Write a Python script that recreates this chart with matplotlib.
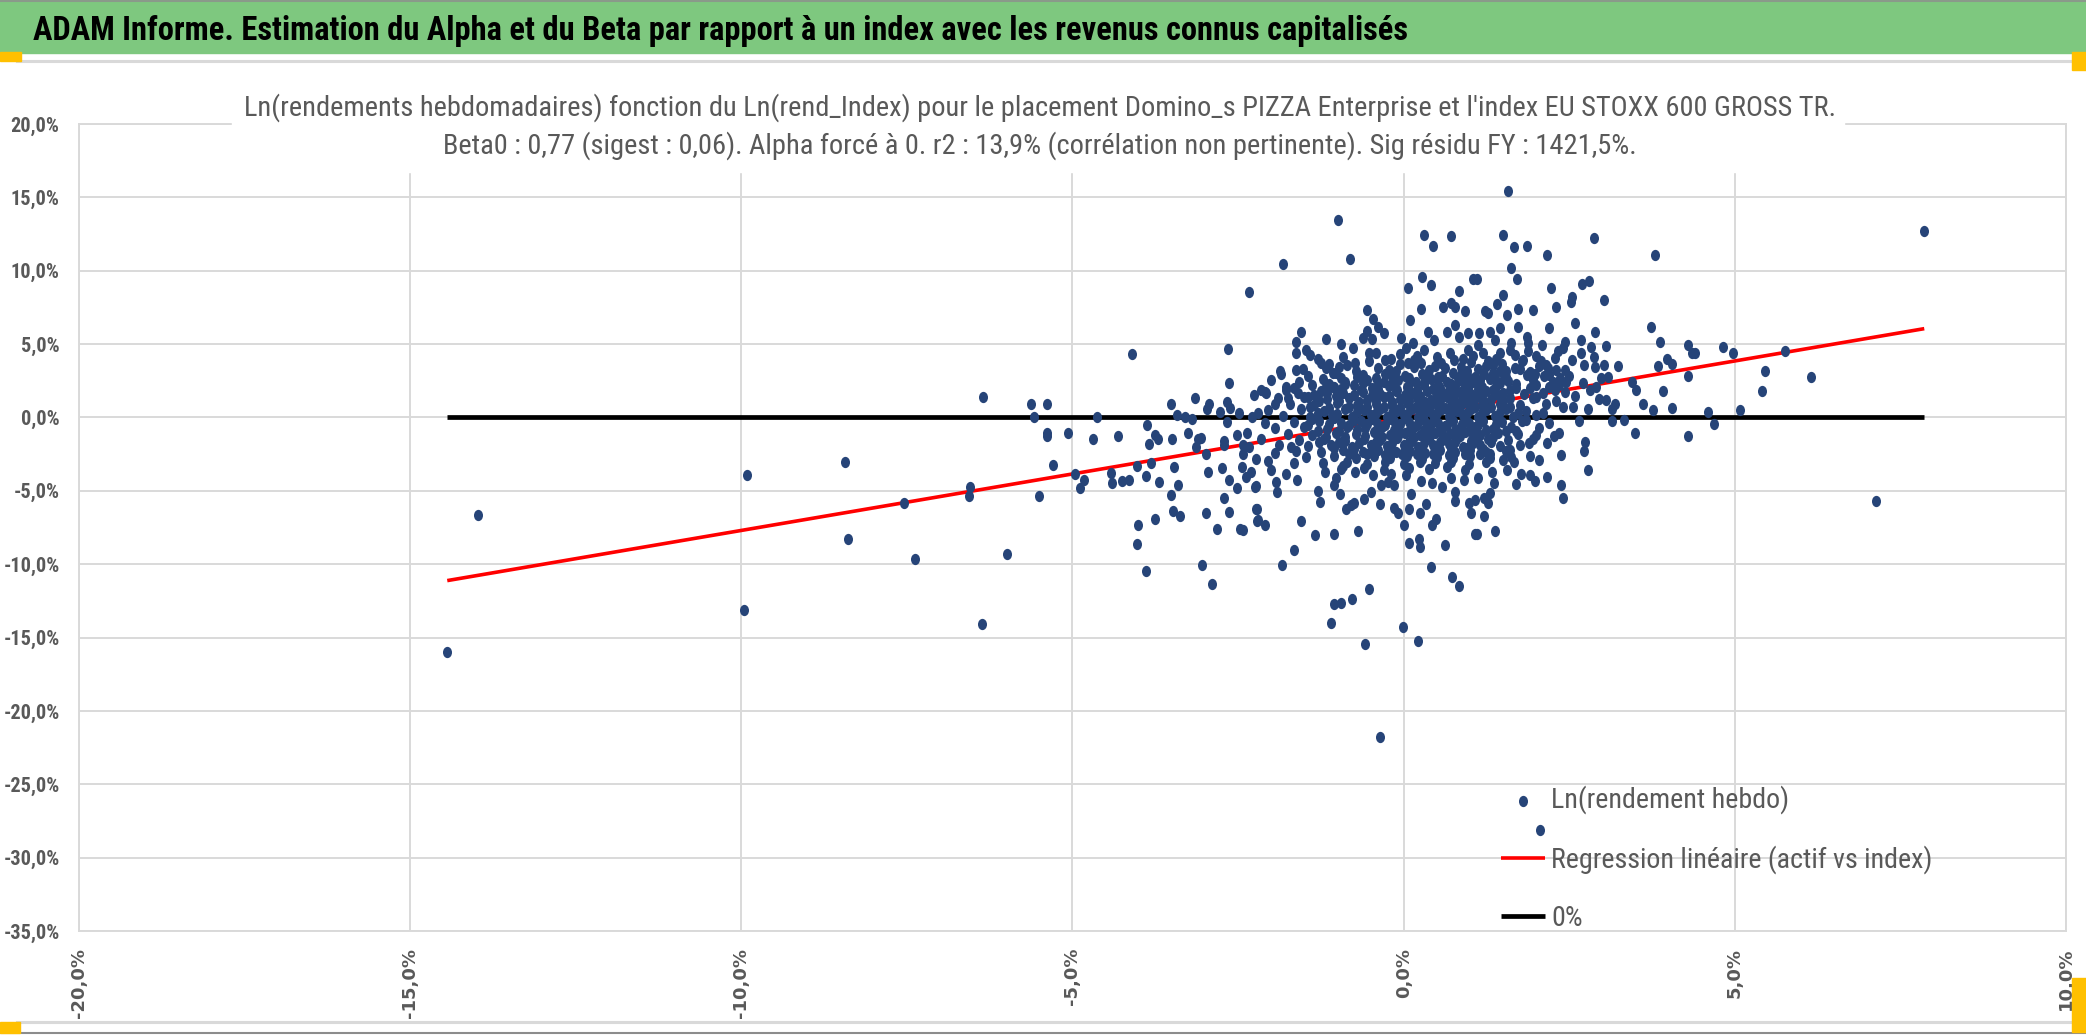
import os
import matplotlib
matplotlib.use("Agg")
from matplotlib import pyplot as plt, ticker as mticker
from matplotlib import font_manager as fm
from matplotlib.path import Path
from matplotlib.patches import Rectangle
from matplotlib.lines import Line2D

# weekly log returns in %, (index, asset)
left_outliers = [(-14.44, -16.0), (-13.98, -6.63), (-9.92, -3.90), (-9.96, -13.10),
                 (-8.44, -3.03), (-8.39, -8.31)]

left_side = [(-7.54, -5.81), (-7.38, -9.64), (-6.55, -4.76), (-6.56, -5.38), (-6.35, 1.39),
             (-6.36, -14.08), (-5.99, -9.32), (-5.62, 0.89), (-5.39, 0.89), (-5.58, 0.05),
             (-5.39, -1.09), (-5.39, -1.28), (-5.29, -3.26), (-5.50, -5.38), (-5.07, -1.03),
             (-4.96, -3.83), (-4.83, -4.28), (-4.88, -4.81), (-4.69, -1.44), (-4.63, 0.02),
             (-4.32, -1.25), (-4.42, -3.78), (-4.40, -4.44), (-4.26, -4.33), (-4.15, -4.28),
             (-4.10, 4.33), (-4.02, -3.33), (-3.89, -3.99), (-3.87, -0.52), (-3.84, -1.82),
             (-3.82, -3.10), (-3.76, -1.21), (-3.71, -1.44), (-3.70, -4.42), (-4.01, -7.36),
             (-4.02, -8.61), (-3.89, -10.46), (-3.75, -6.90), (-3.52, 0.93), (-3.50, -1.44),
             (-3.47, -3.39), (-3.52, -5.31), (-3.48, -6.38), (-3.38, -6.70), (-3.40, -4.58),
             (-3.42, 0.16), (-3.30, 0.05), (-3.20, -0.09), (-3.26, -1.09), (-3.15, 1.34),
             (-3.13, -2.00), (-3.10, -1.50), (-3.06, -1.37), (-2.99, -2.46), (-2.95, -3.69),
             (-2.99, -6.49), (-3.05, -10.07), (-2.89, -11.32), (-2.97, 0.55), (-2.94, 0.91),
             (-2.78, 0.34), (-2.82, -7.63), (-2.74, -3.46), (-2.72, -5.51), (-2.71, -1.59),
             (-2.71, -1.89), (-2.66, -0.32), (-2.66, 1.07), (-2.62, 0.62), (-2.65, 4.67),
             (-2.63, 2.32), (-2.64, -4.28), (-2.63, -6.47), (-2.52, -1.18), (-2.51, -4.81),
             (-2.48, 0.27), (-2.47, -7.63), (-2.42, -7.70), (-2.43, -2.51), (-2.43, -1.89),
             (-2.44, -3.37), (-2.38, -4.05), (-2.36, -1.09), (-2.33, 8.52), (-2.29, 0.05),
             (-2.26, 1.53), (-2.24, -4.74), (-2.23, -2.80), (-2.23, -6.22), (-2.22, -7.06),
             (-2.33, -2.0), (-2.31, -3.71), (-2.1, -0.4), (-2.15, -1.5), (-1.95, -2.4),
             (-2.05, -3.0), (-1.7, -2.0), (-2.2, 0.3)]

upper_cluster = [(-0.99, 13.45), (-0.81, 10.77), (-1.82, 10.45), (0.30, 12.43), (0.45, 11.70),
                 (0.72, 12.36), (0.28, 9.55), (0.41, 9.0), (0.06, 8.80), (0.84, 8.64), (1.04, 9.43),
                 (-0.55, 7.32), (-0.46, 6.73), (-0.38, 6.18), (-0.30, 5.77), (0.26, 7.39),
                 (0.59, 7.55), (0.71, 7.82), (0.78, 7.55), (0.92, 7.27), (0.10, 6.64), (0.78, 6.30),
                 (-1.55, 5.84), (-1.63, 5.14), (-1.62, 4.41), (-1.18, 5.34), (-0.95, 5.02),
                 (-0.76, 4.75), (-1.48, 4.59), (-1.41, 4.25), (-1.30, 3.95), (-1.52, 3.30),
                 (-1.86, 3.16), (-1.12, 3.64), (-1.06, 3.05), (-0.91, 4.14), (-0.97, 3.45),
                 (-0.62, 5.43), (-0.48, 5.34), (-0.56, 5.9), (-0.74, 3.68), (-0.52, 4.36),
                 (-0.42, 4.36), (-0.28, 3.91), (-0.19, 3.98), (-0.22, 3.23), (-2.15, 1.86),
                 (-2.08, 1.64), (-1.78, 1.86), (-1.65, 1.98), (-1.75, 1.30), (-1.94, 0.95),
                 (-1.45, 1.41), (-1.30, 1.23), (-1.17, 2.09), (-1.06, 2.05), (-1.15, 1.64),
                 (-0.04, 5.39), (0.04, 4.70), (0.14, 5.05), (0.36, 5.84), (0.46, 5.27), (0.66, 5.84),
                 (0.84, 5.50), (0.97, 5.73), (0.97, 4.59), (0.31, 4.59), (0.06, 3.68), (0.26, 3.68),
                 (0.56, 3.68), (0.76, 3.91), (0.87, 3.45), (0.2, 4.2), (0.5, 4.1), (0.7, 4.4),
                 (0.9, 4.0), (0.15, 3.9), (-0.05, 4.3)]

lower_cluster = [(-0.36, -21.77), (-0.59, -15.41), (-0.01, -14.27), (0.21, -15.25), (-1.10, -14.0),
                 (-1.05, -12.68), (-0.94, -12.64), (-0.78, -12.39), (-0.53, -11.66), (-1.83, -10.07),
                 (-1.65, -9.05), (0.42, -10.18), (0.73, -10.86), (0.83, -11.5), (-1.34, -8.0),
                 (-1.05, -7.91), (-0.69, -7.75), (-1.55, -7.05), (-2.20, -7.0), (-2.09, -7.34),
                 (-2.21, -6.25), (0.0, -7.34), (0.08, -8.59), (0.23, -8.30), (0.25, -8.82),
                 (0.62, -8.66), (0.43, -7.34), (0.49, -6.95), (1.07, -7.95), (-1.26, -5.75),
                 (-0.96, -5.25), (-0.87, -6.27), (-0.80, -5.98), (-0.75, -5.80), (-0.60, -5.59),
                 (-0.50, -5.07), (-0.35, -5.93), (-0.15, -6.14), (-0.08, -6.48), (0.08, -6.25),
                 (0.11, -5.25), (0.25, -6.5), (0.33, -5.93), (0.78, -5.07), (0.78, -5.68),
                 (0.99, -5.86), (1.01, -6.5), (-2.23, -4.68), (-1.91, -5.07), (-1.92, -4.39),
                 (-2.0, -3.59), (-1.77, -3.82), (-1.61, -4.27), (-1.30, -5.0), (-1.05, -4.61),
                 (-1.02, -4.16), (-0.74, -3.70), (-0.46, -3.93), (-0.34, -4.61), (-0.24, -4.39),
                 (-0.15, -4.61), (-0.19, -3.82), (0.03, -3.93), (0.26, -4.32), (0.43, -4.50),
                 (0.58, -4.73), (0.71, -4.16), (0.91, -4.27), (-0.92, -3.32), (-1.65, -3.09),
                 (-1.19, -3.70)]

right_side = [(1.58, 15.45), (1.50, 12.45), (1.67, 11.64), (1.86, 11.70), (2.16, 11.05), (2.88, 12.23),
              (3.79, 11.05), (1.62, 10.16), (1.71, 9.43), (1.11, 9.43), (2.23, 8.80), (2.70, 9.09),
              (2.80, 9.30), (2.54, 8.23), (2.53, 7.89), (2.30, 7.55), (3.03, 8.0), (1.50, 8.34),
              (1.41, 7.73), (1.72, 7.39), (1.96, 7.30), (1.23, 7.27), (1.28, 7.09), (1.56, 6.98),
              (1.46, 6.07), (1.72, 6.14), (2.20, 6.07), (2.58, 6.45), (2.89, 5.84), (3.74, 6.14),
              (3.87, 5.11), (4.29, 4.93), (4.35, 4.41), (1.13, 5.73), (1.31, 5.84), (1.86, 5.50),
              (1.87, 5.09), (2.09, 4.93), (2.44, 5.16), (2.68, 5.27), (2.83, 4.82), (3.06, 4.89),
              (2.33, 4.52), (2.68, 4.41), (2.87, 4.09), (2.54, 3.91), (2.72, 3.57), (2.89, 3.45),
              (3.03, 3.59), (3.23, 3.50), (3.08, 2.77), (2.98, 2.66), (2.82, 1.86), (2.90, 2.09),
              (2.71, 2.36), (2.44, 3.23), (2.36, 2.66), (2.44, 1.75), (2.59, 1.45), (2.29, 1.86),
              (3.44, 2.43), (3.51, 1.86), (3.84, 3.52), (3.97, 3.95), (4.05, 3.64), (4.29, 2.84),
              (3.92, 1.82), (3.62, 0.91), (3.77, 0.50), (4.05, 0.66), (2.95, 1.27), (3.06, 1.18),
              (3.19, 0.89), (3.14, 0.55), (2.78, 0.61), (2.55, 0.73), (2.41, 0.68), (2.65, -0.25),
              (3.14, -0.25), (3.33, -0.14), (3.50, -1.05), (4.30, -1.23), (2.74, -1.66),
              (2.73, -2.27), (2.38, -2.57), (2.27, -1.27), (2.34, -1.09), (2.16, -1.77),
              (1.89, -1.77), (1.2, 4.4), (1.4, 4.0), (1.6, 4.6), (1.8, 3.9), (1.25, 3.5),
              (1.55, 3.2), (1.9, 3.1), (2.0, 4.2), (2.15, 3.6), (2.2, 2.9), (1.95, 2.6),
              (1.3, -2.5), (1.6, -2.2), (1.9, -2.6), (2.0, -1.2), (1.7, -0.9), (2.2, -0.4),
              (1.5, -2.9), (1.85, -0.2), (2.1, 0.3), (2.3, 1.1), (2.0, 1.4),
              (2.79, -3.55), (2.40, -5.52), (2.38, -4.61), (2.17, -4.05), (1.99, -4.34),
              (1.91, -3.93), (1.77, -3.86), (1.70, -4.55), (1.56, -3.59), (1.38, -7.75),
              (1.11, -7.91), (1.21, -6.73), (1.28, -5.86), (1.31, -5.18), (1.21, -5.52),
              (1.08, -5.64), (1.36, -4.45), (1.12, -4.16), (1.33, -3.7), (1.66, -3.02),
              (2.04, -2.91), (2.06, -28.1)]

upper_right_fill = [(1.15, 2.55), (1.35, 3.05), (1.55, 2.75), (1.75, 3.3), (1.98, 2.95), (2.18, 3.35),
                    (1.28, 3.85), (1.48, 3.65), (1.68, 4.25), (1.88, 4.55), (2.08, 3.85), (2.28, 4.05),
                    (1.12, 4.95), (1.38, 5.25), (1.62, 5.05), (2.4, 4.7), (2.25, 2.45), (1.05, 4.2),
                    (0.95, 3.2), (1.45, 4.4), (1.7, 2.3), (1.9, 2.0), (2.35, 2.2), (2.5, 2.85), (2.1, 1.65)]

right_outliers = [(7.86, 12.73), (7.13, -5.68), (4.40, 4.36), (4.82, 4.82), (4.97, 4.39), (5.75, 4.55),
                  (5.46, 3.14), (5.41, 1.82), (6.15, 2.77), (5.08, 0.50), (4.60, 0.34), (4.69, -0.48)]

# the packed core of the cloud, estimated
core = [(-1.25, 3.7), (-0.85, 3.55), (-0.52, 3.82), (-0.05, 3.62), (0.22, 3.9), (0.48, 3.5), (1.02, 3.75),
        (1.35, 3.6), (1.78, 3.85), (2.05, 3.48),
        (-1.62, 3.25), (-1.18, 3.4), (-0.72, 3.2), (-0.38, 3.35), (-0.12, 3.15), (0.15, 3.42), (0.38, 3.22),
        (0.62, 3.38), (0.88, 3.12), (1.12, 3.3), (1.45, 3.18), (1.68, 3.4), (2.3, 3.25),
        (-1.85, 2.95), (-1.45, 2.82), (-1.02, 3.0), (-0.62, 2.88), (-0.28, 2.98), (0.02, 2.8), (0.28, 2.95),
        (0.52, 2.78), (0.74, 3.02), (0.96, 2.86), (1.22, 2.95), (1.52, 2.8), (1.86, 2.92), (2.12, 2.85),
        (-2.0, 2.52), (-1.58, 2.45), (-1.22, 2.6), (-0.88, 2.42), (-0.55, 2.55), (-0.3, 2.4), (-0.08, 2.58),
        (0.18, 2.45), (0.42, 2.62), (0.65, 2.4), (0.85, 2.55), (1.05, 2.42), (1.3, 2.6), (1.58, 2.48),
        (1.95, 2.55), (2.45, 2.4),
        (-1.78, 2.1), (-1.38, 2.2), (-1.05, 2.05), (-0.75, 2.18), (-0.48, 2.02), (-0.22, 2.15), (0.05, 2.08),
        (0.3, 2.2), (0.55, 2.0), (0.78, 2.12), (0.98, 2.22), (1.18, 2.05), (1.4, 2.15), (1.7, 2.02),
        (2.0, 2.18), (2.2, 2.05),
        (-2.1, 1.72), (-1.6, 1.65), (-1.25, 1.8), (-0.92, 1.68), (-0.62, 1.75), (-0.35, 1.62), (-0.12, 1.78),
        (0.12, 1.65), (0.35, 1.8), (0.58, 1.68), (0.8, 1.75), (1.02, 1.6), (1.25, 1.78), (1.5, 1.7),
        (1.82, 1.62),
        (-1.9, 1.3), (-1.5, 1.38), (-1.15, 1.25), (-0.82, 1.35), (-0.55, 1.22), (-0.3, 1.4), (-0.05, 1.28),
        (0.2, 1.35), (0.42, 1.22), (0.65, 1.38), (0.88, 1.25), (1.1, 1.4), (1.32, 1.28), (1.6, 1.35),
        (1.95, 1.3),
        (-1.72, 0.92), (-1.35, 0.85), (-1.0, 0.98), (-0.7, 0.88), (-0.42, 0.95), (-0.18, 0.82), (0.05, 0.98),
        (0.28, 0.86), (0.5, 0.95), (0.72, 0.82), (0.95, 0.97), (1.18, 0.88), (1.45, 0.95), (1.75, 0.85),
        (2.15, 0.9),
        (-2.05, 0.5), (-1.55, 0.55), (-1.2, 0.45), (-0.88, 0.58), (-0.6, 0.48), (-0.35, 0.55), (-0.1, 0.42),
        (0.12, 0.58), (0.35, 0.45), (0.58, 0.56), (0.8, 0.42), (1.02, 0.55), (1.25, 0.48), (1.55, 0.58),
        (1.85, 0.45),
        (-1.82, 0.12), (-1.42, 0.05), (-1.08, 0.15), (-0.78, 0.02), (-0.5, 0.18), (-0.25, 0.05), (0.0, 0.15),
        (0.22, 0.02), (0.45, 0.18), (0.68, 0.08), (0.9, 0.15), (1.12, 0.02), (1.38, 0.12), (1.65, 0.05),
        (2.0, 0.15),
        (-1.65, -0.3), (-1.28, -0.22), (-0.95, -0.35), (-0.65, -0.25), (-0.4, -0.38), (-0.15, -0.22),
        (0.08, -0.32), (0.3, -0.2), (0.52, -0.35), (0.75, -0.25), (0.98, -0.38), (1.2, -0.22), (1.48, -0.3),
        (1.78, -0.25),
        (-1.95, -0.72), (-1.5, -0.65), (-1.15, -0.78), (-0.85, -0.62), (-0.58, -0.75), (-0.32, -0.65),
        (-0.08, -0.78), (0.15, -0.62), (0.38, -0.72), (0.62, -0.6), (0.85, -0.75), (1.08, -0.65),
        (1.35, -0.78), (1.62, -0.68), (2.05, -0.72),
        (-1.75, -1.1), (-1.38, -1.18), (-1.02, -1.05), (-0.72, -1.15), (-0.45, -1.02), (-0.2, -1.18),
        (0.02, -1.08), (0.25, -1.2), (0.48, -1.05), (0.7, -1.15), (0.92, -1.02), (1.15, -1.18),
        (1.42, -1.08), (1.72, -1.15),
        (-1.58, -1.52), (-1.2, -1.45), (-0.88, -1.58), (-0.6, -1.45), (-0.35, -1.55), (-0.1, -1.42),
        (0.12, -1.58), (0.35, -1.48), (0.58, -1.55), (0.8, -1.42), (1.02, -1.58), (1.28, -1.48),
        (1.58, -1.52), (1.95, -1.45),
        (-1.88, -1.9), (-1.45, -1.95), (-1.1, -1.85), (-0.78, -1.98), (-0.5, -1.88), (-0.25, -1.95),
        (0.0, -1.85), (0.22, -1.98), (0.45, -1.9), (0.68, -1.82), (0.9, -1.98), (1.15, -1.88),
        (1.45, -1.95), (1.75, -1.85),
        (-1.62, -2.3), (-1.25, -2.38), (-0.92, -2.25), (-0.62, -2.35), (-0.38, -2.22), (-0.12, -2.38),
        (0.1, -2.28), (0.32, -2.4), (0.55, -2.25), (0.78, -2.35), (1.0, -2.22), (1.25, -2.38), (1.55, -2.3),
        (-1.48, -2.72), (-1.05, -2.65), (-0.72, -2.78), (-0.45, -2.62), (-0.2, -2.75), (0.05, -2.65),
        (0.28, -2.8), (0.5, -2.68), (0.75, -2.75), (1.0, -2.62), (1.3, -2.78), (1.62, -2.7),
        (-1.22, -3.1), (-0.85, -3.02), (-0.55, -3.15), (-0.28, -3.05), (0.0, -3.18), (0.25, -3.02),
        (0.48, -3.12), (0.72, -3.05), (0.98, -3.15), (1.25, -3.02),
        (-0.95, -3.5), (-0.6, -3.42), (-0.3, -3.55), (0.08, -3.45), (0.38, -3.52), (0.65, -3.4), (0.92, -3.55)]

core_fill = [(-0.95, 2.68), (-0.7, 2.75), (-0.42, 2.7), (-0.18, 2.78), (0.08, 2.66), (0.32, 2.72), (0.58, 2.8),
             (0.82, 2.68), (1.08, 2.74), (1.38, 2.7),
             (-1.12, 2.3), (-0.88, 2.26), (-0.62, 2.35), (-0.38, 2.28), (-0.15, 2.32), (0.08, 2.25), (0.3, 2.36),
             (0.52, 2.3), (0.72, 2.26), (0.92, 2.34), (1.15, 2.28), (1.45, 2.32),
             (-1.2, 1.9), (-0.95, 1.95), (-0.65, 1.88), (-0.38, 1.94), (-0.1, 1.9), (0.2, 1.86), (0.45, 1.94),
             (0.68, 1.9), (0.9, 1.88), (1.12, 1.95), (1.35, 1.9), (1.6, 1.88),
             (-1.35, 1.5), (-1.02, 1.46), (-0.75, 1.54), (-0.48, 1.5), (-0.22, 1.46), (0.02, 1.52), (0.25, 1.48),
             (0.5, 1.55), (0.72, 1.46), (0.95, 1.52), (1.18, 1.48), (1.42, 1.54),
             (-1.28, 1.1), (-0.98, 1.14), (-0.68, 1.06), (-0.42, 1.12), (-0.18, 1.08), (0.08, 1.14), (0.32, 1.06),
             (0.55, 1.12), (0.78, 1.08), (1.0, 1.12), (1.22, 1.06), (1.5, 1.12),
             (-1.42, 0.7), (-1.12, 0.66), (-0.82, 0.74), (-0.55, 0.68), (-0.3, 0.72), (-0.05, 0.66), (0.18, 0.74),
             (0.4, 0.7), (0.62, 0.66), (0.85, 0.74), (1.08, 0.68), (1.32, 0.72), (1.6, 0.68),
             (-1.3, 0.3), (-1.0, 0.26), (-0.7, 0.34), (-0.42, 0.28), (-0.18, 0.32), (0.05, 0.26), (0.28, 0.34),
             (0.5, 0.3), (0.72, 0.26), (0.95, 0.32), (1.18, 0.28), (1.45, 0.34), (1.72, 0.3),
             (-1.38, -0.1), (-1.05, -0.06), (-0.75, -0.14), (-0.48, -0.08), (-0.22, -0.12), (0.02, -0.06),
             (0.25, -0.14), (0.48, -0.08), (0.7, -0.12), (0.92, -0.06), (1.15, -0.14), (1.42, -0.08),
             (-1.45, -0.5), (-1.12, -0.46), (-0.82, -0.54), (-0.55, -0.48), (-0.28, -0.52), (-0.05, -0.46),
             (0.2, -0.54), (0.42, -0.48), (0.65, -0.52), (0.88, -0.46), (1.12, -0.54), (1.4, -0.48),
             (-1.3, -0.9), (-0.98, -0.94), (-0.7, -0.86), (-0.42, -0.92), (-0.15, -0.88), (0.08, -0.94),
             (0.3, -0.86), (0.55, -0.92), (0.78, -0.88), (1.0, -0.94), (1.25, -0.86), (1.55, -0.92),
             (-1.18, -1.3), (-0.88, -1.34), (-0.58, -1.26), (-0.32, -1.32), (-0.08, -1.28), (0.15, -1.34),
             (0.4, -1.26), (0.62, -1.32), (0.85, -1.28), (1.08, -1.34), (1.35, -1.3),
             (-1.28, -1.7), (-0.98, -1.66), (-0.68, -1.74), (-0.42, -1.68), (-0.18, -1.72), (0.08, -1.66),
             (0.3, -1.74), (0.55, -1.7), (0.78, -1.66), (1.05, -1.74), (1.32, -1.7),
             (-1.05, -2.1), (-0.75, -2.14), (-0.48, -2.06), (-0.2, -2.12), (0.05, -2.08), (0.28, -2.14),
             (0.5, -2.06), (0.72, -2.12), (0.95, -2.08), (1.2, -2.12),
             (-0.82, -2.5), (-0.55, -2.46), (-0.28, -2.54), (-0.02, -2.48), (0.2, -2.52), (0.45, -2.46),
             (0.68, -2.54), (0.92, -2.48), (1.15, -2.5)]

beta0 = 0.77
x_ticks = [-20, -15, -10, -5, 0, 5, 10]
y_ticks = [-35, -30, -25, -20, -15, -10, -5, 0, 5, 10, 15, 20]

main_title = ("ADAM Informe. Estimation du Alpha et du Beta par rapport à un index "
              "avec les revenus connus capitalisés")
title_line1 = ("Ln(rendements hebdomadaires) fonction du Ln(rend_Index) pour le placement "
               "Domino_s PIZZA Enterprise et l'index EU STOXX 600 GROSS TR.")
title_line2 = ("Beta0 : 0,77 (sigest : 0,06). Alpha forcé à 0. r2 : 13,9% "
               "(corrélation non pertinente). Sig résidu FY : 1421,5%.")
legend_labels = ['Ln(rendement hebdo)', 'Regression linéaire (actif vs index)', '0%']

grey_txt = '#595959'
grid_col = '#d9d9d9'
W, H = 2086, 1035


def font_file(keys):
    # first installed file whose name starts with one of the keys
    for k in keys:
        for f in fm.fontManager.ttflist:
            if os.path.basename(f.fname).lower().startswith(k.lower()):
                return f.fname
    return None


reg_file = font_file(['LiberationSansNarrow-Regular', 'RobotoCondensed-Regular', 'Roboto_Condensed-Regular',
                      'NotoSans-Condensed.', 'LiberationSans-Regular'])
bold_file = font_file(['LiberationSansNarrow-Bold.', 'RobotoCondensed-Bold.', 'Roboto_Condensed-Bold.',
                       'NotoSans-CondensedBold.', 'LiberationSans-Bold.'])


def fp(bold=False, size=12):
    f = bold_file if bold else reg_file
    if f:
        return fm.FontProperties(fname=f, size=size)
    return fm.FontProperties(family='Liberation Sans', weight='bold' if bold else 'normal', size=size)


fig = plt.figure(figsize=(W / 100, H / 100), dpi=100)
renderer = fig.canvas.get_renderer()


def fit(text, bold, target_px, base=20.0):
    # font size that makes the text span target_px
    t = fig.text(0, 0, text, fontproperties=fp(bold, base))
    w = t.get_window_extent(renderer=renderer).width
    t.remove()
    return base * target_px / w


ax = fig.add_axes([79 / W, 1 - 931 / H, (2066 - 79) / W, (931 - 124) / H])

pts = (left_outliers + left_side + upper_cluster + lower_cluster + right_side + upper_right_fill
       + right_outliers + core + core_fill)
xs = [p[0] for p in pts]
ys = [p[1] for p in pts]

# excel dots are a bit taller than wide
circ = Path.unit_circle()
ell = Path(circ.vertices * [1.0, 1.25], circ.codes)

x_lo, x_hi = min(xs), max(xs)
reg_line, = ax.plot([x_lo, x_hi], [beta0 * x_lo, beta0 * x_hi], color='#ff0000', lw=2.6, zorder=2,
                    solid_capstyle='butt')
zero_line, = ax.plot([x_lo, x_hi], [0, 0], color='black', lw=3.4, zorder=2, solid_capstyle='butt')
sc = ax.scatter(xs, ys, s=66, marker=ell, color='#264478', linewidths=0, zorder=3)

ax.set_xlim(-20, 10)
ax.set_ylim(-35, 20)
ax.set_xticks(x_ticks)
ax.set_yticks(y_ticks)
pct = mticker.FuncFormatter(lambda v, p: f"{v:.1f}%".replace('.', ','))
ax.xaxis.set_major_formatter(pct)
ax.yaxis.set_major_formatter(pct)
ax.grid(True, color=grid_col, lw=1.4)
ax.set_axisbelow(True)
for s in ax.spines.values():
    s.set_color(grid_col)
    s.set_linewidth(1.4)
ax.tick_params(axis='both', length=0, colors=grey_txt)
ax.tick_params(axis='y', pad=14)
ax.tick_params(axis='x', pad=12)
ytick_size = fit('-30,0%', True, 56)
for lab in ax.get_yticklabels():
    lab.set_fontproperties(fp(True, ytick_size))
for lab in ax.get_xticklabels():
    lab.set_fontfamily('DejaVu Sans')
    lab.set_fontweight('bold')
    lab.set_fontsize(13)
    lab.set_rotation(90)

# legend: no frame, rows ~59 px apart, first row centred at y=800 px
leg_size = fit(legend_labels[1], False, 382)
leg_px = leg_size * 100 / 72


def make_legend(spacing, top):
    return ax.legend([sc, reg_line, zero_line], legend_labels, loc='upper left',
                     bbox_to_anchor=(1501 / W, top), bbox_transform=fig.transFigure, frameon=False,
                     prop=fp(False, leg_size), labelcolor=grey_txt, handlelength=44 / leg_px,
                     handletextpad=6 / leg_px, labelspacing=spacing, borderpad=0, borderaxespad=0,
                     scatterpoints=1)


def row_centres(leg):
    fig.canvas.draw()
    out = []
    for t in leg.get_texts():
        bb = t.get_window_extent(renderer=fig.canvas.get_renderer())
        out.append(H - (bb.y0 + bb.y1) / 2)
    return out


spacing, top = 1.2, 1 - 786 / H
leg = make_legend(spacing, top)
c = row_centres(leg)
spacing += (59 - (c[2] - c[0]) / 2) / leg_px
leg.remove()
leg = make_legend(spacing, top)
c = row_centres(leg)
top += (c[0] - 800) / H
leg.remove()
leg = make_legend(spacing, top)

# header band and frame decorations
fig.add_artist(Rectangle((0, 1 - 53 / H), 1, 52 / H, transform=fig.transFigure,
                         color='#7ec87f', zorder=1))
fig.add_artist(Line2D([0, 1], [1 - 1 / H] * 2, color='#8a9a8a', lw=1.5, zorder=2))
fig.add_artist(Line2D([0.008, 1], [1 - 61 / H] * 2, color=grid_col, lw=2.2, zorder=2))
fig.add_artist(Line2D([0.008, 1], [1 - 1022 / H] * 2, color=grid_col, lw=2.2, zorder=2))
fig.add_artist(Line2D([0, 1], [1 - 1033 / H] * 2, color='#8c8c8c', lw=1.5, zorder=2))
for (x0, y0, w, hh) in [(0, 52, 21, 9), (2072, 52, 14, 18), (0, 1022, 20, 11), (2072, 978, 14, 54)]:
    fig.add_artist(Rectangle((x0 / W, 1 - (y0 + hh) / H), w / W, hh / H,
                             transform=fig.transFigure, color='#ffc000', zorder=3))
fig.text(33 / W, 1 - 40 / H, main_title, fontproperties=fp(True, fit(main_title, True, 1376)),
         color='black', va='baseline', ha='left', zorder=4)

# white plate under the chart title, like excel hides the grid there
fig.add_artist(Rectangle((232 / W, 1 - 172 / H), (1844 - 232) / W, 88 / H,
                         transform=fig.transFigure, color='white', zorder=2))
t_size = (fit(title_line1, False, 1590) + fit(title_line2, False, 1188)) / 2
fig.text(1040 / W, 1 - 116 / H, title_line1, fontproperties=fp(False, t_size), color=grey_txt,
         ha='center', va='baseline', zorder=4)
fig.text(1040 / W, 1 - 154 / H, title_line2, fontproperties=fp(False, t_size), color=grey_txt,
         ha='center', va='baseline', zorder=4)

fig.savefig('out.png', dpi=100)
